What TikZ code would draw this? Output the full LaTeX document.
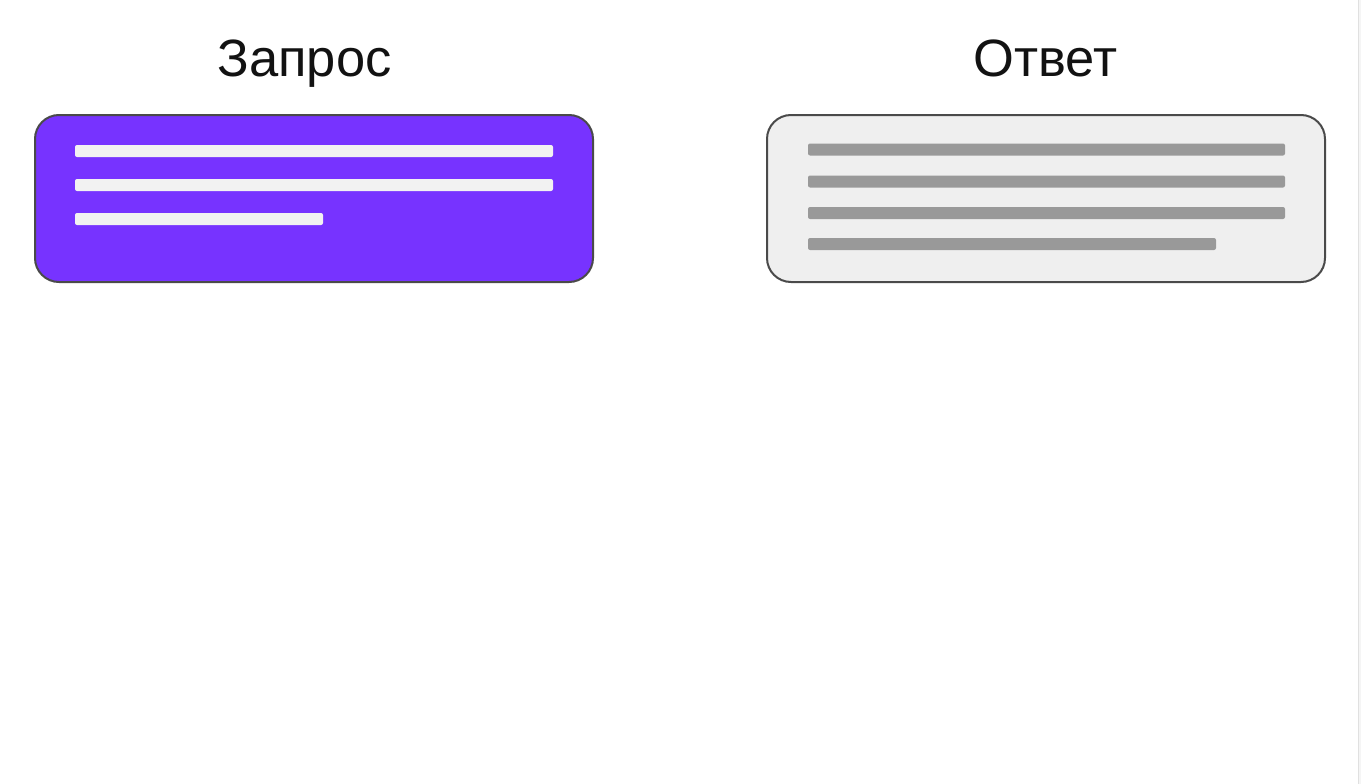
\documentclass[tikz,border=0pt]{standalone}
\usepackage{fontspec}
\setmainfont{Liberation Sans}
\usetikzlibrary{calc}
\definecolor{reqviolet}{HTML}{7733FF}
\definecolor{respgrey}{HTML}{EFEFEF}
\definecolor{bargrey}{HTML}{999999}
\definecolor{barwhite}{HTML}{F2F2F2}
\definecolor{frame}{HTML}{4A4A4A}
\tikzstyle{every node}=[font=\fontsize{52.5}{56}\selectfont,text=black!93]
\tikzstyle{msgbox}=[draw=frame,line width=2pt,rounded corners=24pt,minimum width=558pt,minimum height=167pt,inner sep=0pt]
\tikzstyle{bar}=[line width=0pt,rounded corners=2pt]

\begin{document}
\begin{tikzpicture}[x=1pt,y=-1pt]
    % Page with margins
    \useasboundingbox[fill=white] (0,0) rectangle (1361,784);
    \fill[black!4] (1359,0) rectangle (1361,784);
    \draw[black!12,line width=0.8pt] (1358.6,0) -- (1358.6,784);

    % Titles
    \node[anchor=base] (reqtitle) at (304.5,77) {Запрос};
    \node[anchor=base] (resptitle) at (1045.5,77) {Ответ};

    % Request box
    \node[msgbox,fill=reqviolet] (req) at (314,198.5) {};
    \foreach \y/\len in {145/478, 179/478, 213/248}
        \fill[barwhite,bar] (75,\y) rectangle ++(\len,12);

    % Response box
    \node[msgbox,fill=respgrey] (resp) at (1046,198.5) {};
    \foreach \y/\len in {143.5/477, 175.5/477, 207/477, 238/408}
        \fill[bargrey,bar] (808,\y) rectangle ++(\len,12);
\end{tikzpicture}
\end{document}
